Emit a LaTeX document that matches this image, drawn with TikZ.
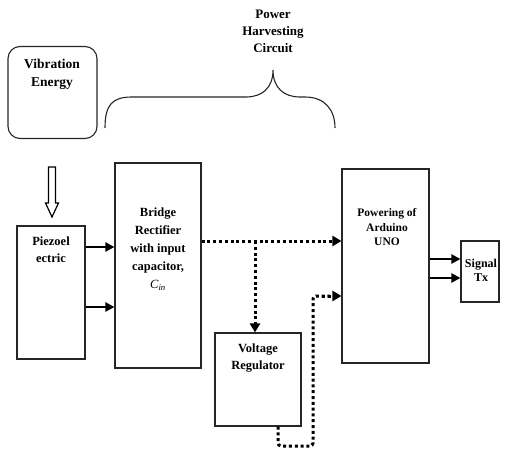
\documentclass[tikz,border=0pt]{standalone}
\usepackage{fontspec}
\setmainfont{Liberation Serif}
\usetikzlibrary{arrows.meta}
\begin{document}
\begin{tikzpicture}[x=1pt,y=-1pt,
  box/.style={draw=black!85, line width=1.1pt, inner sep=0pt},
  lbl/.style={align=center, font=\fontsize{12.5}{17.5}\selectfont\bfseries, text=black, inner sep=0pt},
  arr/.style={line width=2.2pt, -{Triangle[length=9pt,width=9pt]}},
  dotline/.style={line width=3pt, dash pattern=on 3pt off 2.8pt},
  dotarr/.style={dotline, -{Triangle[length=9pt,width=10pt]}}
]
\useasboundingbox (0,0) rectangle (523,460);
% boxes
\node[box, rounded corners=12pt, minimum width=89pt, minimum height=92pt] (vib) at (52.5,92.5) {};
\node[box, minimum width=68pt, minimum height=133pt] (piezo) at (51,292.5) {};
\node[box, minimum width=86pt, minimum height=205pt] (bridge) at (158,265.5) {};
\node[box, minimum width=87pt, minimum height=194pt] (ard) at (385.5,266) {};
\node[box, minimum width=38pt, minimum height=61pt] (sig) at (480,271.5) {};
\node[box, minimum width=86pt, minimum height=93pt] (reg) at (258,379.5) {};
% labels
\node[lbl, font=\fontsize{13.5}{18}\selectfont\bfseries] (tvib) at (52,74) {Vibration\\Energy};
\node[lbl, font=\fontsize{13}{17}\selectfont\bfseries] (tphc) at (273,31.5) {Power\\Harvesting\\Circuit};
\node[lbl] (tpz) at (51,249.5) {Piezoel\\ectric};
\node[lbl, font=\fontsize{12.5}{18}\selectfont\bfseries] (tbr) at (158,249) {Bridge\\Rectifier\\with input\\capacitor,\\{\mdseries\itshape C\textsubscript{in}}};
\node[lbl] (treg) at (258,358) {Voltage\\Regulator};
\node[lbl, font=\fontsize{11.5}{14.5}\selectfont\bfseries] (tard) at (387,227.5) {Powering of\\Arduino\\UNO};
\node[lbl, font=\fontsize{12}{14}\selectfont\bfseries] (tsig) at (481,270) {Signal\\Tx};
% hollow down arrow
\draw[line width=1.2pt, line join=miter] (48.5,167) -- (55.5,167) -- (55.5,203) -- (58.5,203) -- (52,217) -- (45.5,203) -- (48.5,203) -- cycle;
% brace
\draw[line width=1.1pt, black!85] (105,128) .. controls (105,105) and (112,97) .. (132,97) -- (246,97)
  .. controls (262,97) and (273,88) .. (273,70)
  .. controls (273,88) and (284,97) .. (300,97) -- (305,97)
  .. controls (325,97) and (335,110) .. (335,128);
% solid arrows
\draw[arr] (piezo.east |- 0,247) -- (bridge.west |- 0,247);
\draw[arr] (piezo.east |- 0,307) -- (bridge.west |- 0,307);
\draw[arr] (ard.east |- 0,259) -- (sig.west |- 0,259);
\draw[arr] (ard.east |- 0,278) -- (sig.west |- 0,278);
% dotted
\coordinate (j) at (255,241);
\draw[dotarr] (bridge.east |- 0,241) -- (ard.west |- 0,241);
\draw[dotarr] (j) -- (j |- reg.north);
\draw[dotline, rounded corners=3pt] (reg.south -| 278,0) -- (278,446) -- (313,446) -- (313,296) -- (330,296);
\draw[dotarr] (322,296) -- (ard.west |- 0,296);
\end{tikzpicture}
\end{document}
